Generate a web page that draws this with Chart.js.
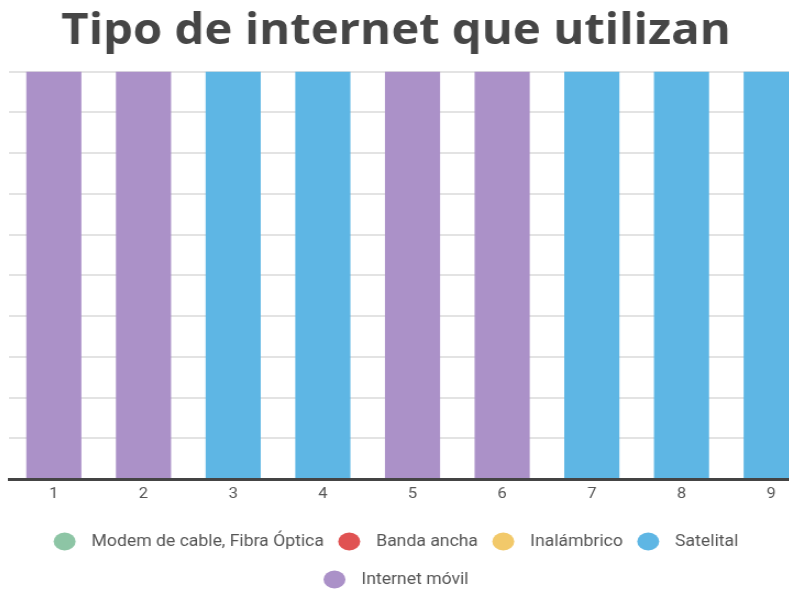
<!DOCTYPE html>
<html>
<head>
<meta charset="utf-8">
<script src="https://cdn.jsdelivr.net/npm/chart.js@4"></script>
<style>
  html, body { margin: 0; padding: 0; background: #fff; overflow: hidden; }
  .wrap { position: relative; width: 789px; height: 590px; overflow: hidden; }
  #chartCanvas { position: absolute; left: -24px; top: 0; }
</style>
</head>
<body>
<div class="wrap">
  <!-- l'immagine originale è leggermente allargata in orizzontale: 764 -> 840 px -->
  <canvas id="chartCanvas" width="764" height="602" style="width: 840px; height: 602px;"></canvas>
</div>
<script>
  // categorie (asse x)
  const categories = ['1', '2', '3', '4', '5', '6', '7', '8', '9'];

  // nomi e colori delle serie (legenda)
  const seriesNames = ['Modem de cable, Fibra Óptica', 'Banda ancha', 'Inalámbrico', 'Satelital', 'Internet móvil'];
  const seriesColors = ['#8DC5A5', '#E05252', '#F2C96A', '#5EB6E4', '#AB91C8'];

  // valori
  const modemValues = [null, null, null, null, null, null, null, null, null];
  const bandaValues = [null, null, null, null, null, null, null, null, null];
  const inalambricoValues = [null, null, null, null, null, null, null, null, null];
  const satelitalValues = [null, null, 10, 10, null, null, 10, 10, 10];
  const movilValues = [10, 10, null, null, 10, 10, null, null, null];

  const seriesValues = [modemValues, bandaValues, inalambricoValues, satelitalValues, movilValues];

  const datasets = seriesNames.map((name, i) => ({
    label: name,
    data: seriesValues[i],
    backgroundColor: seriesColors[i],
    borderWidth: 0,
    categoryPercentage: 1,
    barPercentage: 0.615
  }));

  // pallini della legenda disegnati a mano (ellissi come nell'originale)
  const legendDots = {
    id: 'legendDots',
    afterDraw(chart) {
      const lg = chart.legend;
      const c = chart.ctx;
      lg.legendItems.forEach((item, i) => {
        const hb = lg.legendHitBoxes[i];
        c.save();
        c.fillStyle = seriesColors[item.datasetIndex];
        c.beginPath();
        c.ellipse(hb.left + 10, hb.top + hb.height / 2, 10, 9, 0, 0, Math.PI * 2);
        c.fill();
        c.restore();
      });
    }
  };

  const ctx = document.getElementById('chartCanvas').getContext('2d');
  const chart = new Chart(ctx, {
    type: 'bar',
    data: { labels: categories, datasets: datasets },
    plugins: [legendDots],
    options: {
      responsive: false,
      animation: false,
      devicePixelRatio: 1,
      skipNull: true,
      layout: { padding: 0 },
      plugins: {
        title: {
          display: true,
          text: 'Tipo de internet que utilizan',
          color: '#464646',
          font: { family: 'Open Sans', size: 43, weight: 'bold' },
          padding: { top: 6, bottom: 14 }
        },
        legend: {
          position: 'bottom',
          labels: {
            color: '#555555',
            font: { family: 'Roboto', size: 16 },
            boxWidth: 26.5,
            boxHeight: 25,
            padding: 13,
            generateLabels: function(chart) {
              const items = Chart.defaults.plugins.legend.labels.generateLabels(chart);
              return items.map(it => Object.assign(it, {
                fillStyle: 'rgba(0,0,0,0)',
                strokeStyle: 'rgba(0,0,0,0)',
                lineWidth: 0
              }));
            }
          }
        },
        tooltip: { enabled: false }
      },
      scales: {
        x: {
          grid: { display: false, drawTicks: false },
          border: { display: true, color: '#444444', width: 3 },
          ticks: { color: '#555555', font: { family: 'Roboto', size: 15 }, padding: 6 },
          afterFit: function(scale) {
            scale.height = 37;
          }
        },
        y: {
          min: 0,
          max: 10,
          ticks: { display: false, stepSize: 1 },
          grid: { color: '#e3e3e3', lineWidth: 2, drawTicks: false },
          border: { display: false },
          afterFit: function(scale) {
            scale.width = 30;
          }
        }
      }
    }
  });
</script>
</body>
</html>
